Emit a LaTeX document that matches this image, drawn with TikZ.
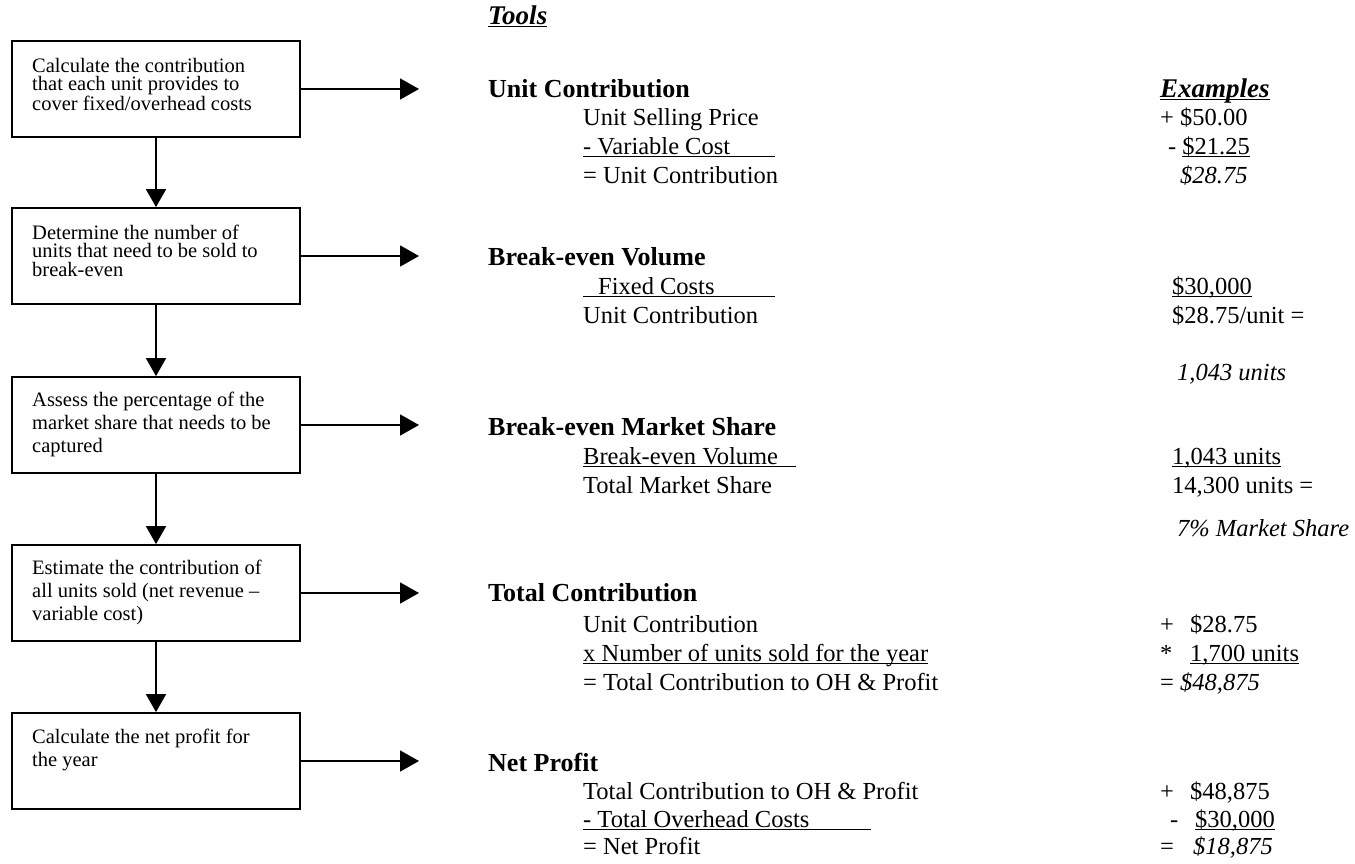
\documentclass[tikz,border=0pt]{standalone}
\usepackage{fontspec}
\setmainfont{Liberation Serif}
\usetikzlibrary{arrows.meta}
\newsavebox{\ulbox}
\newcommand{\myul}[2]{\sbox\ulbox{#1}\rlap{\rule[-3.3pt]{\dimexpr\wd\ulbox+#2\relax}{1.6pt}}\usebox\ulbox}
\tikzset{
  stepbox/.style={draw, line width=1.8pt, minimum width=288pt, minimum height=96pt, inner sep=0pt},
  btext/.style={anchor=base west, inner sep=0pt, font=\fontsize{20.5}{18.5}\selectfont},
  btextw/.style={anchor=base west, inner sep=0pt, font=\fontsize{20.5}{23}\selectfont},
  hdr/.style={anchor=base west, inner sep=0pt, font=\fontsize{26}{30}\selectfont\bfseries},
  sub/.style={anchor=base west, inner sep=0pt, font=\fontsize{24.5}{28}\selectfont},
  res/.style={anchor=base west, inner sep=0pt, font=\fontsize{24.5}{28}\selectfont\itshape},
  ttl/.style={anchor=base west, inner sep=0pt, font=\fontsize{27}{30}\selectfont\bfseries\itshape},
  down/.style={line width=1.8pt, -{Triangle[width=20pt,length=18pt]}},
  toarrow/.style={line width=1.8pt, -{Triangle[width=21pt,length=19pt]}}
}
\begin{document}
\begin{tikzpicture}[x=1pt,y=-1pt]
\useasboundingbox (0,0) rectangle (1355,863);

% left boxes
\node[stepbox] (b1) at (156,89) {};
\node[stepbox] (b2) at (156,256) {};
\node[stepbox] (b3) at (156,425) {};
\node[stepbox] (b4) at (156,593) {};
\node[stepbox] (b5) at (156,761) {};

\node[btext] (t1) at (32,72) {\parbox[t]{265pt}{\raggedright Calculate the contribution\\that each unit provides to\\cover fixed/overhead costs}};
\node[btext] (t2) at (32,239) {\parbox[t]{265pt}{\raggedright Determine the number of\\units that need to be sold to\\break-even}};
\node[btextw] (t3) at (32,406) {\parbox[t]{265pt}{\raggedright Assess the percentage of the\\market share that needs to be\\captured}};
\node[btextw] (t4) at (32,574) {\parbox[t]{265pt}{\raggedright Estimate the contribution of\\all units sold (net revenue –\\variable cost)}};
\node[btextw] (t5) at (32,743) {\parbox[t]{265pt}{\raggedright Calculate the net profit for\\the year}};

\draw[down] (b1.south) -- (b2.north);
\draw[down] (b2.south) -- (b3.north);
\draw[down] (b3.south) -- (b4.north);
\draw[down] (b4.south) -- (b5.north);

\coordinate (a1) at (419,89);
\coordinate (a2) at (419,256);
\coordinate (a3) at (419,425);
\coordinate (a4) at (419,593);
\coordinate (a5) at (419,761);
\draw[toarrow] (b1.east) -- (a1);
\draw[toarrow] (b2.east) -- (a2);
\draw[toarrow] (b3.east) -- (a3);
\draw[toarrow] (b4.east) -- (a4);
\draw[toarrow] (b5.east) -- (a5);

% titles
\node[ttl] (tools) at (488,24) {\myul{Tools}{0pt}};
\node[ttl] (ex) at (1160,97) {\myul{Examples}{0pt}};

% Unit Contribution
\node[hdr] (h1) at (488,97) {Unit Contribution};
\node[sub] (h1a) at (583,125) {Unit Selling Price};
\node[sub] (h1b) at (583,154) {\myul{\makebox[192pt][l]{- Variable Cost}}{0pt}};
\node[sub] (h1c) at (583,183) {= Unit Contribution};
\node[sub] (v1a) at (1160,125) {+ \$50.00};
\node[sub] (v1b) at (1168,154) {- \myul{\$21.25}{0pt}};
\node[res] (v1c) at (1180,183) {\$28.75};

% Break-even Volume
\node[hdr] (h2) at (488,265) {Break-even Volume};
\node[sub] (h2a) at (583,294) {\myul{\makebox[192pt][l]{\hspace{15pt}Fixed Costs}}{0pt}};
\node[sub] (h2b) at (583,323) {Unit Contribution};
\node[sub] (v2a) at (1172,294) {\myul{\$30,000}{0pt}};
\node[sub] (v2b) at (1172,323) {\$28.75/unit =};
\node[res] (v2c) at (1177,380) {1,043 units};

% Break-even Market Share
\node[hdr] (h3) at (488,435) {Break-even Market Share};
\node[sub] (h3a) at (583,464) {\myul{\makebox[213pt][l]{Break-even Volume}}{0pt}};
\node[sub] (h3b) at (583,493) {Total Market Share};
\node[sub] (v3a) at (1172,464) {\myul{1,043 units}{0pt}};
\node[sub] (v3b) at (1172,493) {14,300 units =};
\node[res] (v3c) at (1177,536) {7\% Market Share};

% Total Contribution
\node[hdr] (h4) at (488,601) {Total Contribution};
\node[sub] (h4a) at (583,632) {Unit Contribution};
\node[sub] (h4b) at (583,661) {\myul{x Number of units sold for the year}{0pt}};
\node[sub] (h4c) at (583,690) {= Total Contribution to OH \& Profit};
\node[sub] (v4a) at (1160,632) {\makebox[30pt][l]{+}\$28.75};
\node[sub] (v4b) at (1160,661) {\makebox[30pt][l]{*}\myul{1,700 units}{0pt}};
\node[sub] (v4c) at (1160,690) {= \textit{\$48,875}};

% Net Profit
\node[hdr] (h5) at (488,771) {Net Profit};
\node[sub] (h5a) at (583,799) {Total Contribution to OH \& Profit};
\node[sub] (h5b) at (583,827) {\myul{\makebox[288pt][l]{- Total Overhead Costs}}{0pt}};
\node[sub] (h5c) at (583,854) {= Net Profit};
\node[sub] (v5a) at (1160,799) {\makebox[30pt][l]{+}\$48,875};
\node[sub] (v5b) at (1170,827) {\makebox[25pt][l]{-}\myul{\$30,000}{0pt}};
\node[sub] (v5c) at (1160,854) {\makebox[33pt][l]{=}\textit{\$18,875}};
\end{tikzpicture}
\end{document}
